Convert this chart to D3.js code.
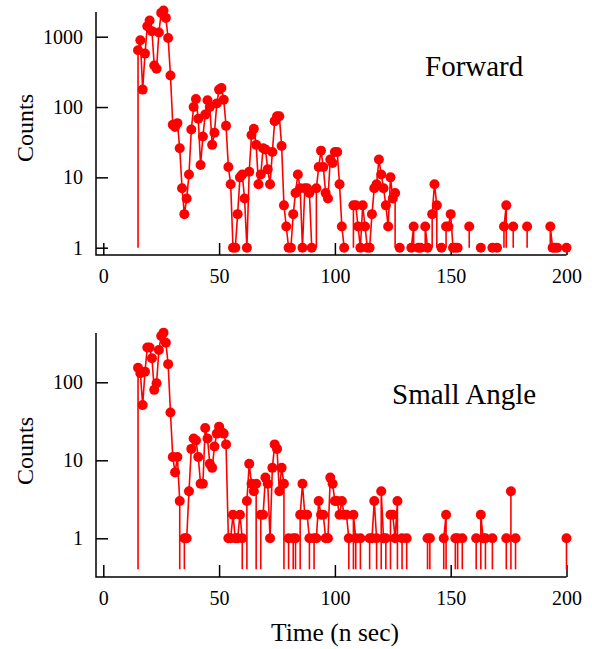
<!DOCTYPE html>
<html>
<head>
<meta charset="utf-8">
<script src="https://cdn.jsdelivr.net/npm/d3@7"></script>
<style>
  body { margin: 0; background: #fff; }
  text { font-family: "Liberation Serif", "Times New Roman", serif; fill: #000; }
</style>
</head>
<body>
<svg width="592" height="649"></svg>
<script>
var svg = d3.select("svg");

// time bins, 1 ns wide
var times = d3.range(15, 201);

// counts per bin (0 = empty bin)
var forwardCounts = [
  640, 890, 177, 575, 1410, 1700, 1200, 390, 350, 1150,
  2180, 2350, 1850, 960, 280, 56, 52, 59, 26, 7,
  3, 5, 11, 48, 100, 130, 68, 15, 38, 78,
  125, 100, 29, 43, 112, 177, 186, 127, 54, 14,
  8, 1, 1, 3, 10, 11, 5, 1, 12, 40,
  49, 29, 8, 11, 26, 25, 13, 8, 23, 63,
  74, 74, 28, 4, 2, 1, 1, 3, 6, 11,
  7, 1, 7, 7, 6, 1, 0, 7, 14, 24,
  14, 6, 5, 18, 16, 23, 23, 8, 2, 1,
  0, 0, 0, 4, 4, 2, 1, 4, 2, 1,
  1, 3, 7, 8, 18, 11, 7, 4, 2, 10,
  5, 6, 0, 1, 0, 0, 0, 0, 1, 2,
  0, 1, 1, 0, 2, 1, 0, 3, 8, 4,
  0, 1, 0, 2, 2, 3, 1, 1, 1, 0,
  0, 0, 0, 2, 0, 0, 0, 0, 1, 0,
  0, 0, 0, 1, 0, 1, 0, 0, 2, 4,
  0, 0, 2, 0, 0, 0, 0, 0, 2, 0,
  0, 0, 0, 0, 0, 0, 0, 0, 2, 1,
  1, 1, 0, 0, 0, 1
];

var smallAngleCounts = [
  154, 131, 51, 137, 280, 280, 203, 80, 97, 259,
  392, 433, 322, 171, 41, 11, 7, 11, 3, 0,
  1, 1, 4, 14, 19, 18, 11, 5, 5, 26,
  19, 9, 8, 15, 22, 27, 23, 22, 16, 1,
  1, 2, 1, 1, 2, 1, 0, 3, 9, 5,
  4, 5, 0, 2, 2, 6, 5, 1, 8, 16,
  14, 4, 8, 5, 0, 1, 0, 1, 1, 0,
  2, 5, 2, 2, 1, 0, 1, 1, 3, 2,
  2, 1, 1, 6, 5, 3, 3, 2, 3, 2,
  2, 1, 0, 2, 1, 0, 1, 0, 0, 0,
  1, 1, 3, 1, 0, 4, 1, 1, 0, 2,
  2, 1, 3, 0, 1, 0, 1, 0, 0, 0,
  0, 0, 0, 0, 0, 1, 1, 0, 0, 0,
  0, 0, 1, 2, 0, 0, 0, 1, 1, 0,
  1, 0, 0, 0, 0, 0, 1, 0, 2, 1,
  1, 0, 0, 1, 0, 0, 0, 0, 0, 1,
  0, 4, 0, 1, 0, 0, 0, 0, 0, 0,
  0, 0, 0, 0, 0, 0, 0, 0, 0, 0,
  0, 0, 0, 0, 0, 1
];

var xTicks = [0, 50, 100, 150, 200];
var forwardTicks = [1, 10, 100, 1000];
var smallAngleTicks = [1, 10, 100];

var x = d3.scaleLinear().domain([0, 200]).range([103.3, 566.5]);

var panels = [
  {
    label: "Forward", counts: forwardCounts, ticks: forwardTicks,
    y: d3.scaleLog().domain([1, 1000]).range([247.7, 36.7]),
    floor: 1, top: 12, bottom: 255, countsY: 128,
    labelX: 425, labelY: 76
  },
  {
    label: "Small Angle", counts: smallAngleCounts, ticks: smallAngleTicks,
    y: d3.scaleLog().domain([1, 100]).range([538.3, 382.3]),
    floor: 0.4, top: 333, bottom: 577, countsY: 451,
    labelX: 392, labelY: 404
  }
];

panels.forEach(function(p) {
  var g = svg.append("g");
  var y = p.y;

  // y axis, ticks pointing inward
  var yAxis = g.append("g")
    .attr("transform", "translate(96,0)")
    .call(d3.axisLeft(y).tickValues(p.ticks).tickFormat(d3.format("d"))
      .tickSizeInner(-12).tickSizeOuter(0).tickPadding(13));
  yAxis.select(".domain").remove();
  yAxis.selectAll("line").attr("stroke-width", 1.5);
  yAxis.selectAll("text").style("font-size", "20px")
    .style("font-family", "'Liberation Serif', serif");

  var xAxis = g.append("g")
    .attr("transform", "translate(0," + p.bottom + ")")
    .call(d3.axisBottom(x).tickValues(xTicks)
      .tickSizeInner(-12).tickSizeOuter(0).tickPadding(14));
  xAxis.select(".domain").remove();
  xAxis.selectAll("line").attr("stroke-width", 1.5);
  xAxis.selectAll("text").style("font-size", "20px")
    .style("font-family", "'Liberation Serif', serif");

  g.append("path")
    .attr("d", "M96," + p.top + "V" + p.bottom + "H" + x(200))
    .attr("fill", "none")
    .attr("stroke", "#000")
    .attr("stroke-width", 1.5);

  // runs of non-empty bins; empty bins send the line straight down to the floor
  var pts = times.map(function(t, i) { return { t: t, v: p.counts[i] }; });
  var runs = [], cur = null;
  pts.forEach(function(d) {
    if (d.v > 0) {
      if (!cur) { cur = []; runs.push(cur); }
      cur.push(d);
    } else cur = null;
  });

  var line = d3.line()
    .x(function(d) { return x(d.t); })
    .y(function(d) { return y(d.v); });

  g.selectAll(".run")
    .data(runs)
    .enter().append("path")
    .attr("class", "run")
    .attr("d", function(r) {
      var first = r[0], last = r[r.length - 1];
      var seq = [{ t: first.t, v: p.floor }].concat(r, [{ t: last.t, v: p.floor }]);
      return line(seq);
    })
    .attr("fill", "none")
    .attr("stroke", "#ff0000")
    .attr("stroke-width", 1.6);

  g.selectAll(".pt")
    .data(pts.filter(function(d) { return d.v > 0; }))
    .enter().append("circle")
    .attr("class", "pt")
    .attr("cx", function(d) { return x(d.t); })
    .attr("cy", function(d) { return y(d.v); })
    .attr("r", 5)
    .attr("fill", "#ff0000");

  g.append("text")
    .attr("transform", "translate(25," + p.countsY + ") rotate(-90)")
    .attr("text-anchor", "middle")
    .attr("dy", "0.35em")
    .style("font-size", "24px")
    .text("Counts");

  g.append("text")
    .attr("x", p.labelX)
    .attr("y", p.labelY)
    .style("font-size", "29px")
    .text(p.label);
});

svg.append("text")
  .attr("x", 335)
  .attr("y", 641)
  .attr("text-anchor", "middle")
  .style("font-size", "25.5px")
  .text("Time (n sec)");
</script>
</body>
</html>
